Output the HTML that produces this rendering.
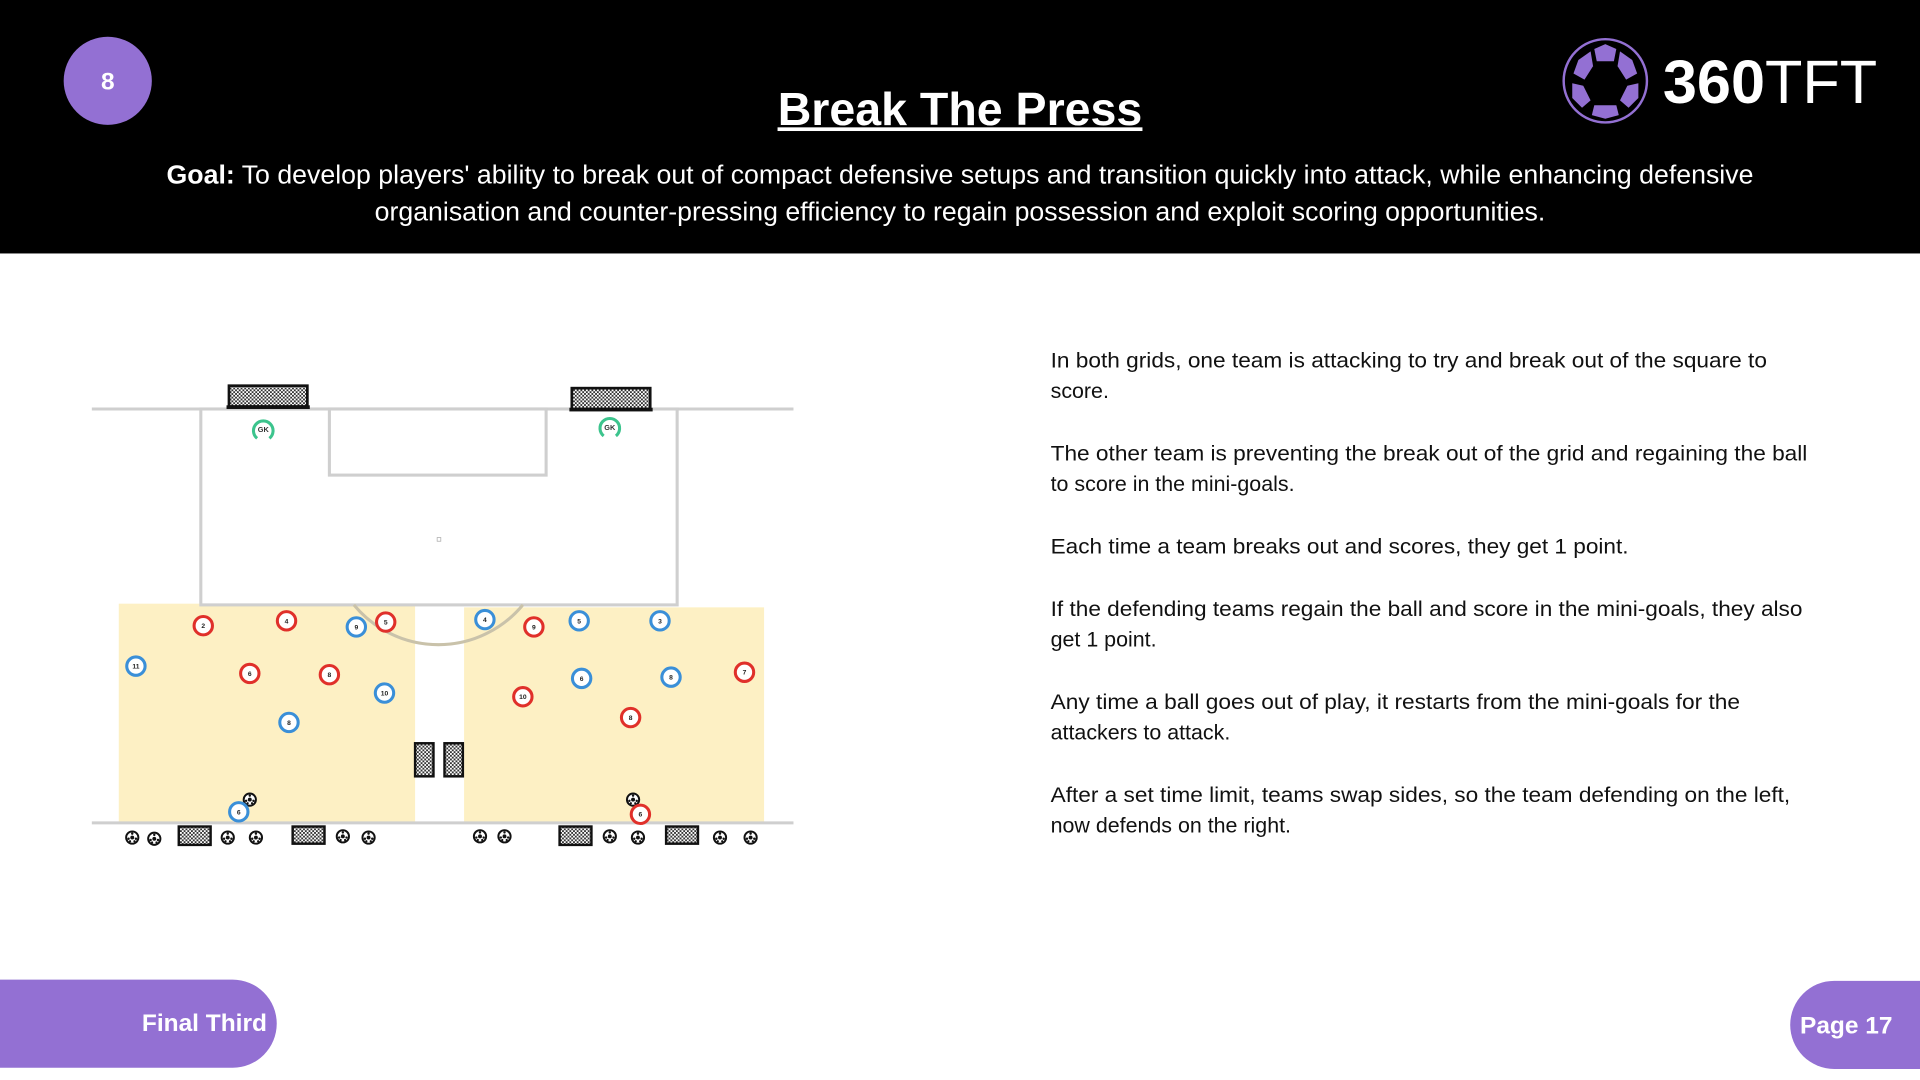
<!DOCTYPE html>
<html><head><meta charset="utf-8"><style>
html,body{margin:0;padding:0;width:1920px;height:1080px;overflow:hidden;background:#fff}
svg{display:block}
</style></head><body>
<svg width="1920" height="1080" viewBox="0 0 1568 882" preserveAspectRatio="none" xmlns="http://www.w3.org/2000/svg" font-family="Liberation Sans, Arial, sans-serif">
<defs>
<pattern id="net" width="3" height="3" patternUnits="userSpaceOnUse"><rect width="3" height="3" fill="#fff"/><rect width="1.5" height="1.5" fill="#333"/><rect x="1.5" y="1.5" width="1.5" height="1.5" fill="#333"/></pattern>
<g id="ball"><circle r="5" fill="#fff" stroke="#111" stroke-width="1.6"/><circle r="1.6" fill="#111"/><circle cx="0" cy="-3.2" r="1" fill="#111"/><circle cx="3" cy="1" r="1" fill="#111"/><circle cx="-3" cy="1" r="1" fill="#111"/><circle cx="1.8" cy="3" r="0.9" fill="#111"/><circle cx="-1.8" cy="3" r="0.9" fill="#111"/></g>
</defs>
<rect x="0" y="0" width="1568" height="207" fill="#000"/>
<circle cx="88" cy="66" r="36" fill="#9370d3"/>
<text x="88" y="73" font-size="20" font-weight="bold" fill="#fff" text-anchor="middle">8</text>
<text x="784" y="102" font-size="38" font-weight="bold" fill="#fff" text-anchor="middle">Break The Press</text>
<rect x="635" y="104" width="298" height="3" fill="#fff"/>
<text x="784" y="150" font-size="21.5" fill="#fff" text-anchor="middle" textLength="1296" lengthAdjust="spacingAndGlyphs"><tspan font-weight="bold">Goal:</tspan> To develop players' ability to break out of compact defensive setups and transition quickly into attack, while enhancing defensive</text>
<text x="784" y="180" font-size="21.5" fill="#fff" text-anchor="middle" textLength="956" lengthAdjust="spacingAndGlyphs">organisation and counter-pressing efficiency to regain possession and exploit scoring opportunities.</text>
<!-- logo -->
<circle cx="1311" cy="66" r="34" fill="none" stroke="#9370d3" stroke-width="2"/>
<circle cx="1311" cy="66" r="31" fill="#000"/>
<g fill="#9370d3">
<polygon points="1302,40 1311,36 1320,40 1318,50 1304,50"/>
<polygon points="1323,42 1333,49 1337,60 1328,65 1321,54"/>
<polygon points="1299,42 1289,49 1285,60 1294,65 1301,54"/>
<polygon points="1329,70 1338,68 1338,80 1330,88 1323,82"/>
<polygon points="1293,70 1284,68 1284,80 1292,88 1299,82"/>
<polygon points="1302,86 1320,86 1322,94 1311,97 1300,94"/>
<polygon points="1306,56 1316,56 1320,66 1311,74 1302,66" opacity="0"/>
</g>
<text x="1358" y="84" font-size="50" fill="#fff" font-weight="bold">360<tspan font-weight="normal">TFT</tspan></text>
<rect x="97" y="493" width="242" height="178" fill="#fdf0c4"/>
<rect x="379" y="496" width="245" height="175" fill="#fdf0c4"/>
<g stroke="#cfcfcf" stroke-width="2.5" fill="none">
<line x1="75" y1="334" x2="648" y2="334"/>
<rect x="164" y="334" width="389" height="160"/>
<rect x="269" y="334" width="177" height="54"/>
<line x1="75" y1="672" x2="648" y2="672"/>
<path d="M289,494 A89.5,89.5 0 0 0 427,494" stroke="#c9c2aa"/>
</g>
<rect x="357" y="439" width="3" height="3" fill="none" stroke="#aaa" stroke-width="0.6"/>
<rect x="187" y="315" width="64" height="17" fill="url(#net)" stroke="#111" stroke-width="2.2"/>
<rect x="185" y="331" width="68" height="3" fill="#111"/>
<rect x="467" y="317" width="64" height="17" fill="url(#net)" stroke="#111" stroke-width="2.2"/>
<rect x="465" y="333" width="68" height="3" fill="#111"/>
<g fill="none" stroke="#3cc48d" stroke-width="2.5"><path d="M210,358 A8,8 0 1 1 220,358"/><path d="M493,356 A8,8 0 1 1 503,356"/></g>
<text x="215" y="353" font-size="6" text-anchor="middle" fill="#333" font-weight="bold">GK</text>
<text x="498" y="351" font-size="6" text-anchor="middle" fill="#333" font-weight="bold">GK</text>
<rect x="339" y="607" width="15" height="27" fill="url(#net)" stroke="#111" stroke-width="2"/>
<rect x="363" y="607" width="15" height="27" fill="url(#net)" stroke="#111" stroke-width="2"/>
<g fill="url(#net)" stroke="#111" stroke-width="2">
<rect x="146" y="675" width="26" height="15"/><rect x="239" y="675" width="26" height="14"/>
<rect x="457" y="675" width="26" height="15"/><rect x="544" y="675" width="26" height="14"/>
</g>
<g>
<use href="#ball" x="108" y="684"/><use href="#ball" x="126" y="685"/><use href="#ball" x="186" y="684"/><use href="#ball" x="209" y="684"/>
<use href="#ball" x="280" y="683"/><use href="#ball" x="301" y="684"/><use href="#ball" x="392" y="683"/><use href="#ball" x="412" y="683"/>
<use href="#ball" x="498" y="683"/><use href="#ball" x="521" y="684"/><use href="#ball" x="588" y="684"/><use href="#ball" x="613" y="684"/>
<use href="#ball" x="204" y="653"/><use href="#ball" x="517" y="653"/>
</g>
<g fill="#fff" stroke="#e0302a" stroke-width="2.5">
<circle cx="166" cy="511" r="7.5"/><circle cx="234" cy="507" r="7.5"/><circle cx="315" cy="508" r="7.5"/><circle cx="204" cy="550" r="7.5"/><circle cx="269" cy="551" r="7.5"/>
<circle cx="436" cy="512" r="7.5"/><circle cx="427" cy="569" r="7.5"/><circle cx="515" cy="586" r="7.5"/><circle cx="608" cy="549" r="7.5"/><circle cx="523" cy="665" r="7.5"/>
</g>
<g fill="#fff" stroke="#3a8fd8" stroke-width="2.5">
<circle cx="111" cy="544" r="7.5"/><circle cx="291" cy="512" r="7.5"/><circle cx="314" cy="566" r="7.5"/><circle cx="236" cy="590" r="7.5"/><circle cx="195" cy="663" r="7.5"/>
<circle cx="396" cy="506" r="7.5"/><circle cx="473" cy="507" r="7.5"/><circle cx="539" cy="507" r="7.5"/><circle cx="475" cy="554" r="7.5"/><circle cx="548" cy="553" r="7.5"/>
</g>
<g font-size="5.5" fill="#222" text-anchor="middle" font-weight="bold">
<text x="166" y="513">2</text><text x="234" y="509">4</text><text x="315" y="510">5</text><text x="204" y="552">6</text><text x="269" y="553">8</text>
<text x="436" y="514">9</text><text x="427" y="571">10</text><text x="515" y="588">8</text><text x="608" y="551">7</text><text x="523" y="667">6</text>
<text x="111" y="546">11</text><text x="291" y="514">9</text><text x="314" y="568">10</text><text x="236" y="592">8</text><text x="195" y="665">6</text>
<text x="396" y="508">4</text><text x="473" y="509">5</text><text x="539" y="509">3</text><text x="475" y="556">6</text><text x="548" y="555">8</text>
</g>
<g font-size="17.5" fill="#111">
<text x="858" y="300" textLength="585" lengthAdjust="spacingAndGlyphs">In both grids, one team is attacking to try and break out of the square to</text>
<text x="858" y="325">score.</text>
<text x="858" y="376" textLength="618" lengthAdjust="spacingAndGlyphs">The other team is preventing the break out of the grid and regaining the ball</text>
<text x="858" y="401">to score in the mini-goals.</text>
<text x="858" y="452" textLength="472" lengthAdjust="spacingAndGlyphs">Each time a team breaks out and scores, they get 1 point.</text>
<text x="858" y="503" textLength="614" lengthAdjust="spacingAndGlyphs">If the defending teams regain the ball and score in the mini-goals, they also</text>
<text x="858" y="528">get 1 point.</text>
<text x="858" y="579" textLength="563" lengthAdjust="spacingAndGlyphs">Any time a ball goes out of play, it restarts from the mini-goals for the</text>
<text x="858" y="604">attackers to attack.</text>
<text x="858" y="655" textLength="604" lengthAdjust="spacingAndGlyphs">After a set time limit, teams swap sides, so the team defending on the left,</text>
<text x="858" y="680">now defends on the right.</text>
</g>
<path d="M0,800 H190 A36,36 0 0 1 190,872 H0 Z" fill="#9370d3"/>
<text x="218" y="842" font-size="20" font-weight="bold" fill="#fff" text-anchor="end">Final Third</text>
<path d="M1568,801 H1498 A36,36 0 0 0 1498,873 H1568 Z" fill="#9370d3"/>
<text x="1470" y="844" font-size="20" font-weight="bold" fill="#fff">Page 17</text>
</svg>
</body></html>
